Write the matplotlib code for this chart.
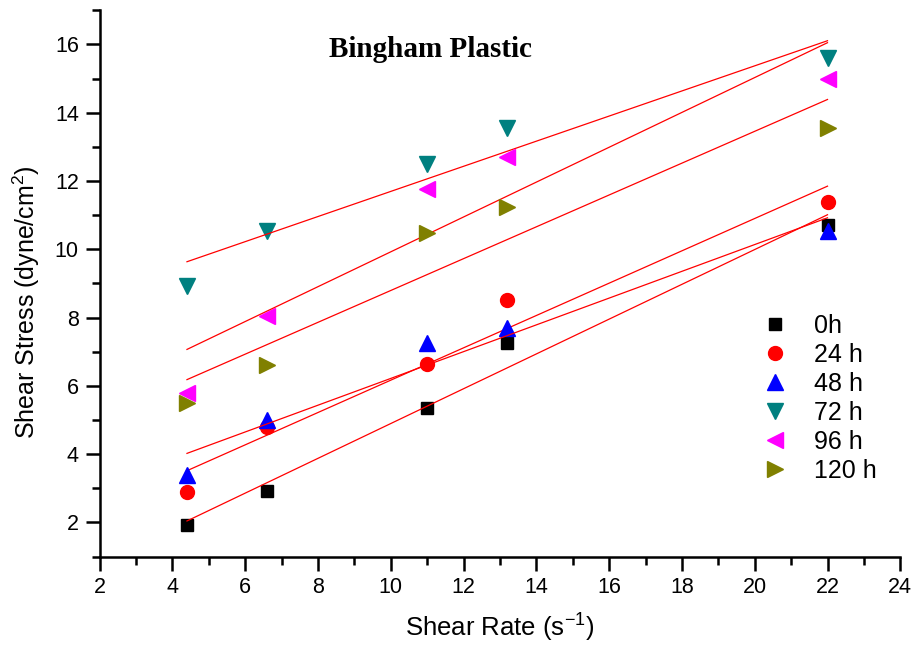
import matplotlib
matplotlib.use("Agg")
import matplotlib.pyplot as plt
import numpy as np
from matplotlib.ticker import MultipleLocator

plt.rcParams['font.family'] = ['Liberation Sans', 'DejaVu Sans']

shear_rate = [4.4, 6.6, 11.0, 13.2, 22.0]

stress_0h = [1.94, 2.91, 5.34, 7.27, 10.70]
stress_24h = [2.88, 4.81, 6.63, 8.53, 11.40]
stress_48h = [3.40, 5.00, 7.27, 7.70, 10.55]
stress_72h = [8.94, 10.55, 12.50, 13.54, 15.60]
stress_96h = [5.78, 8.06, 11.78, 12.69, 15.00]
stress_120h = [5.49, 6.60, 10.47, 11.23, 13.54]

labels = ["0h", "24 h", "48 h", "72 h", "96 h", "120 h"]
series = [stress_0h, stress_24h, stress_48h, stress_72h, stress_96h, stress_120h]
colors = ["black", "#FF0000", "#0000FF", "#008080", "#FF00FF", "#808000"]
markers = ["s", "o", "^", "v", "<", ">"]
sizes = [9, 10, 11, 11, 11, 11]

fig = plt.figure(figsize=(9.14, 6.45), dpi=100)
ax = fig.add_axes([0.109, 0.137, 0.876, 0.847])

x = np.array(shear_rate)
for ys, lab, c, m, s in zip(series, labels, colors, markers, sizes):
    ax.plot(x, ys, linestyle='none', marker=m, color=c, markersize=s, label=lab)
    k, b = np.polyfit(x, ys, 1)
    ax.plot([x[0], x[-1]], [k * x[0] + b, k * x[-1] + b], color='#FF0000', lw=0.9)

ax.set_xlim(2, 24)
ax.set_ylim(1, 17)
ax.set_xticks(np.arange(2, 25, 2))
ax.set_yticks(np.arange(2, 17, 2))
ax.xaxis.set_minor_locator(MultipleLocator(1))
ax.yaxis.set_minor_locator(MultipleLocator(1))

for side in ['top', 'right']:
    ax.spines[side].set_visible(False)
for side in ['left', 'bottom']:
    ax.spines[side].set_linewidth(1.8)
ax.tick_params(which='major', direction='out', length=10, width=1.8, labelsize=15.5, pad=5)
ax.tick_params(which='minor', direction='out', length=6, width=1.8)

ax.set_xlabel("Shear Rate (s$^{\\mathregular{-1}}$)", fontsize=18.5)
ax.set_ylabel("Shear Stress (dyne/cm$^{\\mathregular{2}}$)", fontsize=18)
ax.xaxis.set_label_coords(0.5, -0.097)
ax.yaxis.set_label_coords(-0.072, 0.466)

ax.text(11.1, 15.85, "Bingham Plastic", fontsize=21, fontweight='bold',
        family='Liberation Serif', ha='center', va='center')

ax.legend(loc='center right', bbox_to_anchor=(0.999, 0.29), frameon=False,
          fontsize=18, handletextpad=0.1, labelspacing=0.2, handlelength=2.9)

fig.savefig("out.png", dpi=100)
